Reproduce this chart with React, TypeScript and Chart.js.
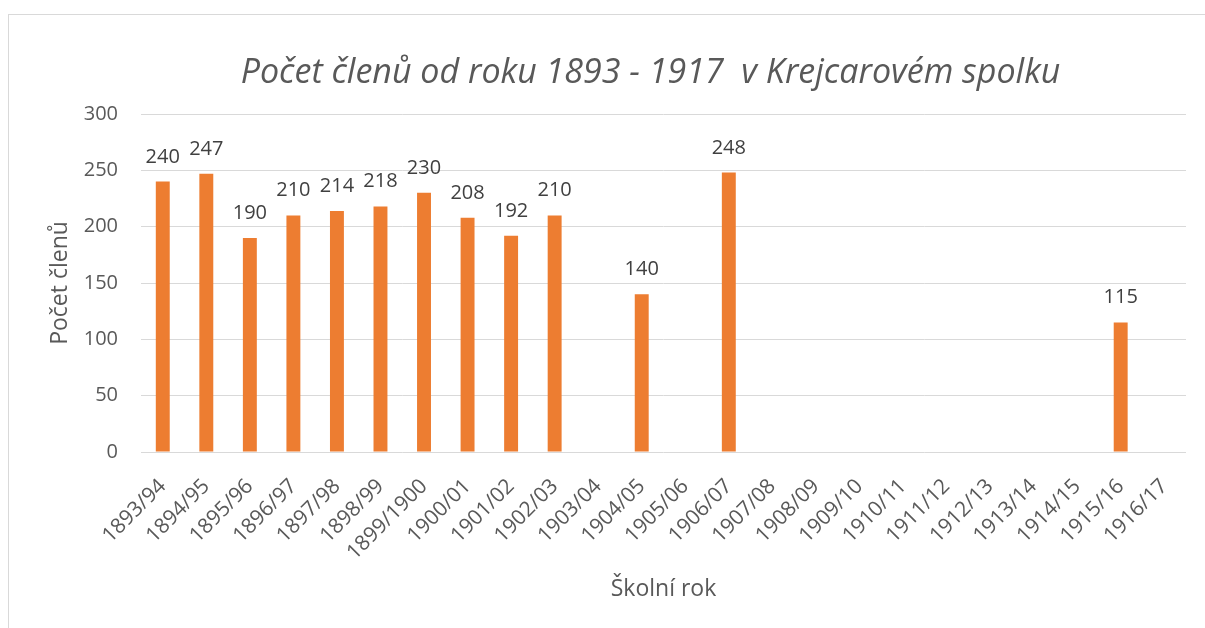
import React, { useEffect, useRef } from "react";
import { Chart, registerables } from "chart.js";

Chart.register(...registerables);

const categories = [
  "1893/94", "1894/95", "1895/96", "1896/97", "1897/98", "1898/99", "1899/1900", "1900/01",
  "1901/02", "1902/03", "1903/04", "1904/05", "1905/06", "1906/07", "1907/08", "1908/09",
  "1909/10", "1910/11", "1911/12", "1912/13", "1913/14", "1914/15", "1915/16", "1916/17",
];
const members: (number | null)[] = [
  240, 247, 190, 210, 214, 218, 230, 208, 192, 210, null, 140, null, 248, null, null,
  null, null, null, null, null, null, 115, null,
];
const yTickMin = 0;
const yTickMax = 300;
const yTickStep = 50;

const chartTitle = "Počet členů od roku 1893 - 1917  v Krejcarovém spolku";
const xTitle = "Školní rok";
const yTitle = "Počet členů";

const FONT = "'Open Sans', 'DejaVu Sans', sans-serif";

const valueLabels = {
  id: "valueLabels",
  afterDatasetsDraw(chart: any) {
    const ctx = chart.ctx;
    const meta = chart.getDatasetMeta(0);
    const data = chart.data.datasets[0].data;
    ctx.save();
    ctx.font = `20px ${FONT}`;
    ctx.fillStyle = "#404040";
    ctx.textAlign = "center";
    ctx.textBaseline = "alphabetic";
    meta.data.forEach((bar: any, i: number) => {
      const v = data[i];
      if (v === null || v === undefined) return;
      ctx.fillText(String(v), bar.x, bar.y - 19);
    });
    ctx.restore();
  },
};

const chartTitlePlugin = {
  id: "chartTitlePlugin",
  afterDraw(chart: any) {
    const ctx = chart.ctx;
    ctx.save();
    ctx.font = `italic 34px ${FONT}`;
    ctx.fillStyle = "#595959";
    ctx.textAlign = "center";
    ctx.textBaseline = "alphabetic";
    ctx.fillText(chartTitle, 650.5, 83);
    ctx.restore();
  },
};

export default function App() {
  const canvasRef = useRef<HTMLCanvasElement | null>(null);

  useEffect(() => {
    if (!canvasRef.current) return;
    const chart = new Chart(canvasRef.current, {
      type: "bar",
      data: {
        labels: categories,
        datasets: [
          {
            data: members,
            backgroundColor: "#ED7D31",
            borderWidth: 0,
            categoryPercentage: 1,
            barPercentage: 0.32,
          },
        ],
      },
      options: {
        responsive: false,
        animation: false,
        layout: { padding: { left: 0, right: 19, top: 114, bottom: 0 } },
        plugins: {
          legend: { display: false },
          tooltip: { enabled: false },
          title: { display: false },
        },
        scales: {
          x: {
            grid: { display: false, drawTicks: false },
            border: { display: false },
            ticks: {
              color: "#595959",
              font: { family: FONT, size: 21 },
              maxRotation: 45,
              minRotation: 45,
              autoSkip: false,
              padding: 22,
            },
            title: {
              display: true,
              text: xTitle,
              color: "#595959",
              font: { family: FONT, size: 23, lineHeight: 1.2 },
              padding: { top: 0, bottom: 25 },
            },
            afterFit(scale: any) {
              scale.height = 176;
            },
          },
          y: {
            min: yTickMin,
            max: yTickMax,
            grid: { color: "#D9D9D9", lineWidth: 1, drawTicks: false },
            border: { display: false },
            ticks: {
              stepSize: yTickStep,
              color: "#595959",
              font: { family: FONT, size: 20 },
              padding: 23,
            },
            title: {
              display: true,
              text: yTitle,
              color: "#595959",
              font: { family: FONT, size: 23, lineHeight: 1.2 },
              padding: { top: 46.2, bottom: 0 },
            },
            afterFit(scale: any) {
              scale.width = 141;
            },
          },
        },
      },
      plugins: [valueLabels, chartTitlePlugin],
    });
    return () => chart.destroy();
  }, []);

  return (
    <div
      style={{
        position: "fixed",
        left: 0,
        top: 0,
        width: 1205,
        height: 628,
        overflow: "hidden",
        background: "#ffffff",
      }}
    >
      <div
        style={{
          position: "absolute",
          left: 8,
          top: 14,
          width: 1300,
          height: 700,
          border: "1px solid #D9D9D9",
        }}
      />
      <canvas
        ref={canvasRef}
        width={1205}
        height={628}
        style={{ position: "absolute", left: 0, top: 0, width: 1205, height: 628 }}
      />
    </div>
  );
}
